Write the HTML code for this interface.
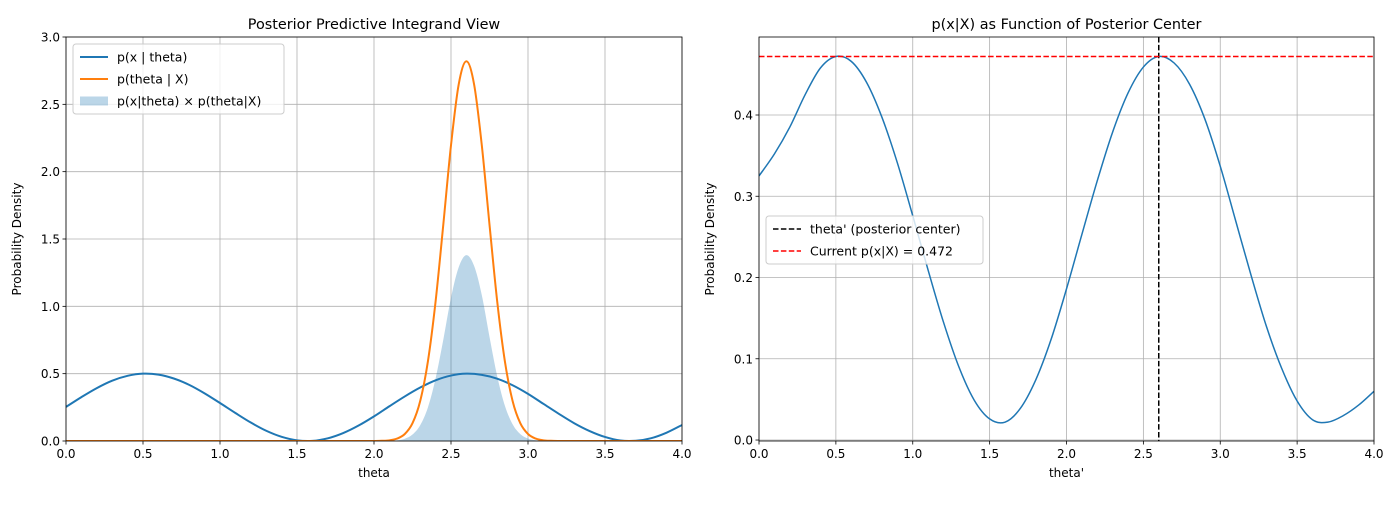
<!DOCTYPE html>
<html><head><meta charset="utf-8">
<style>
body{margin:0;background:#fff;}
svg{font-family:"DejaVu Sans","Liberation Sans",sans-serif;}
</style></head>
<body>
<svg id="c" width="1400" height="500" viewBox="0 0 1400 500"></svg>
<script>
const thetaGrid=[0,0.1,0.2,0.3,0.4,0.5,0.6,0.7,0.8,0.9,1.0,1.1,1.2,1.3,1.4,1.5,1.6,1.7,1.8,1.9,2.0,2.1,2.2,2.3,2.4,2.5,2.6,2.7,2.8,2.9,3.0,3.1,3.2,3.3,3.4,3.5,3.6,3.7,3.8,3.9,4.0];
const likelihoodVals=[0.253,0.326,0.393,0.448,0.484,0.500,0.493,0.464,0.417,0.354,0.282,0.208,0.137,0.076,0.031,0.005,0.001,0.020,0.059,0.115,0.183,0.258,0.331,0.397,0.451,0.486,0.500,0.491,0.463,0.414,0.350,0.276,0.202,0.132,0.074,0.030,0.004,0.002,0.021,0.062,0.119];
const postTheta=[0,1.9,1.95,2.0,2.05,2.1,2.15,2.2,2.25,2.3,2.35,2.4,2.45,2.5,2.55,2.6,2.65,2.7,2.75,2.8,2.85,2.9,2.95,3.0,3.05,3.1,3.15,3.2,3.25,3.3,4.0];
const posteriorVals=[0,0,0,0.0003,0.0014,0.005,0.018,0.052,0.132,0.297,0.591,1.037,1.607,2.196,2.648,2.82,2.648,2.196,1.607,1.037,0.591,0.297,0.132,0.052,0.018,0.005,0.0014,0.0003,0,0,0];
const productVals=[0,0,0,0,0.0003,0.0013,0.005,0.017,0.048,0.117,0.249,0.465,0.752,1.063,1.29,1.38,1.30,1.083,0.773,0.481,0.262,0.124,0.051,0.018,0.006,0.0014,0.0004,0,0,0,0];
const centerVals=[0.325,0.352,0.385,0.425,0.458,0.472,0.466,0.440,0.397,0.341,0.276,0.209,0.145,0.090,0.049,0.026,0.022,0.039,0.074,0.124,0.186,0.253,0.319,0.379,0.427,0.459,0.472,0.464,0.438,0.395,0.337,0.270,0.203,0.140,0.088,0.048,0.025,0.022,0.030,0.043,0.060];
const leftXTicks=[0,0.5,1.0,1.5,2.0,2.5,3.0,3.5,4.0];
const leftYTicks=[0,0.5,1.0,1.5,2.0,2.5,3.0];
const rightYTicks=[0,0.1,0.2,0.3,0.4];
const posteriorCenter=2.6;
const currentPx=0.472;

const svg=document.getElementById('c');
const NS='http://www.w3.org/2000/svg';
function mk(tag,attrs,parent,text){const e=document.createElementNS(NS,tag);for(const k in attrs)e.setAttribute(k,attrs[k]);if(text!==undefined)e.textContent=text;(parent||svg).appendChild(e);return e;}

function axes(x0,x1,y0,y1,xmin,xmax,ymin,ymax){return{sx:v=>x0+(v-xmin)/(xmax-xmin)*(x1-x0),sy:v=>y1-(v-ymin)/(ymax-ymin)*(y1-y0),x0,x1,y0,y1};}
const L=axes(66,682,37,441,0,4,0,3);
const R=axes(759,1374,37,441,0,4,-0.0012,0.4960);

function drawFrame(A,xt,yt,fmtY,title,xlabel,name){
  const g=mk('g',{});
  
  
  xt.forEach(t=>{const x=A.sx(t);
    const gl=mk('line',{x1:x,x2:x,y1:A.y0,y2:A.y1,stroke:'#b0b0b0','stroke-width':0.8},g);
    
    mk('line',{x1:x,x2:x,y1:A.y1,y2:A.y1+3.5,stroke:'#000','stroke-width':0.8},g);
    const tl=mk('text',{x:x,y:A.y1+17,'font-size':12,'text-anchor':'middle'},g,t.toFixed(1));
    });
  yt.forEach(t=>{const y=A.sy(t);
    const gl=mk('line',{x1:A.x0,x2:A.x1,y1:y,y2:y,stroke:'#b0b0b0','stroke-width':0.8},g);
    
    mk('line',{x1:A.x0-3.5,x2:A.x0,y1:y,y2:y,stroke:'#000','stroke-width':0.8},g);
    const tl=mk('text',{x:A.x0-6,y:y+4.5,'font-size':12,'text-anchor':'end'},g,fmtY(t));
    });
  const tt=mk('text',{x:(A.x0+A.x1)/2,y:A.y0-8,'font-size':14.4,'text-anchor':'middle'},g,title);
  
  const xl=mk('text',{x:(A.x0+A.x1)/2,y:A.y1+36,'font-size':12,'text-anchor':'middle'},g,xlabel);
  
  const yx=A.x0-45,yy=(A.y0+A.y1)/2;
  const yl=mk('text',{x:yx,y:yy,'font-size':12,'text-anchor':'middle',transform:`rotate(-90 ${yx} ${yy})`},g,'Probability Density');
  
  return g;
}
function border(A){const b=mk('rect',{x:A.x0,y:A.y0,width:A.x1-A.x0,height:A.y1-A.y0,fill:'none',stroke:'#000','stroke-width':0.8});
  }
// Monotone-ish Catmull-Rom smoothing
function pathD(A,xs,ys){
  const P=xs.map((x,i)=>[A.sx(x),A.sy(ys[i])]);
  let d='M'+P[0][0].toFixed(2)+','+P[0][1].toFixed(2);
  for(let i=0;i<P.length-1;i++){
    const p0=P[i-1]||P[i],p1=P[i],p2=P[i+1],p3=P[i+2]||P[i+1];
    let c1=[p1[0]+(p2[0]-p0[0])/6,p1[1]+(p2[1]-p0[1])/6];
    let c2=[p2[0]-(p3[0]-p1[0])/6,p2[1]-(p3[1]-p1[1])/6];
    const lo=Math.min(p1[1],p2[1]),hi=Math.max(p1[1],p2[1]);
    const flat=(p1[1]===p2[1]);
    if(flat){c1[1]=p1[1];c2[1]=p2[1];}
    d+=` C${c1[0].toFixed(2)},${c1[1].toFixed(2)} ${c2[0].toFixed(2)},${c2[1].toFixed(2)} ${p2[0].toFixed(2)},${p2[1].toFixed(2)}`;
  }
  return d;
}

// Left
drawFrame(L,leftXTicks,leftYTicks,t=>t.toFixed(1),'Posterior Predictive Integrand View','theta','left-axes');
const clipL=mk('clipPath',{id:'cl'});mk('rect',{x:L.x0,y:L.y0,width:L.x1-L.x0,height:L.y1-L.y0},clipL);
const fill=mk('path',{d:pathD(L,postTheta,productVals)+` L${L.sx(4)},${L.sy(0)} L${L.sx(0)},${L.sy(0)} Z`,fill:'#1f77b4','fill-opacity':0.3,'clip-path':'url(#cl)'});


const lk=mk('path',{d:pathD(L,thetaGrid,likelihoodVals),fill:'none',stroke:'#1f77b4','stroke-width':2,'clip-path':'url(#cl)'});


const po=mk('path',{d:pathD(L,postTheta,posteriorVals),fill:'none',stroke:'#ff7f0e','stroke-width':2,'clip-path':'url(#cl)'});


border(L);

// Right
drawFrame(R,leftXTicks,rightYTicks,t=>t.toFixed(1),'p(x|X) as Function of Posterior Center',"theta'",'right-axes');
const clipR=mk('clipPath',{id:'cr'});mk('rect',{x:R.x0,y:R.y0,width:R.x1-R.x0,height:R.y1-R.y0},clipR);
const cl=mk('path',{d:pathD(R,thetaGrid,centerVals),fill:'none',stroke:'#1f77b4','stroke-width':1.5,'clip-path':'url(#cr)'});


const vl=mk('line',{x1:R.sx(posteriorCenter),x2:R.sx(posteriorCenter),y1:R.y0,y2:R.y1,stroke:'#000','stroke-width':1.5,'stroke-dasharray':'5.5,2.4'});


const hl=mk('line',{x1:R.x0,x2:R.x1,y1:R.sy(currentPx),y2:R.sy(currentPx),stroke:'#ff0000','stroke-width':1.5,'stroke-dasharray':'5.5,2.4'});


border(R);

// Legends
function legend(x,y,w,items,name){
  const g=mk('g',{});
  
  
  mk('rect',{x:x,y:y,width:w,height:items.length*22+4,rx:3,fill:'#fff','fill-opacity':0.8,stroke:'#cccccc','stroke-width':1},g);
  items.forEach((it,i)=>{const cy=y+13+i*22;
    const e=mk('g',{},g);
    
    
    if(it.type==='patch')mk('rect',{x:x+7,y:cy-4.5,width:28,height:9,fill:'#1f77b4','fill-opacity':0.3},e);
    else mk('line',{x1:x+7,x2:x+35,y1:cy,y2:cy,stroke:it.color,'stroke-width':it.w||2,'stroke-dasharray':it.dash||'none'},e);
    mk('text',{x:x+44,y:cy+4.5,'font-size':12.5},e,it.label);});
}
legend(73,44,211,[{color:'#1f77b4',label:'p(x | theta)'},{color:'#ff7f0e',label:'p(theta | X)'},{type:'patch',label:'p(x|theta) × p(theta|X)'}],'left-legend');
legend(766,216,217,[{color:'#000',w:1.5,dash:'5.5,2.4',label:"theta' (posterior center)"},{color:'#ff0000',w:1.5,dash:'5.5,2.4',label:'Current p(x|X) = 0.472'}],'right-legend');
</script>
</body></html>
